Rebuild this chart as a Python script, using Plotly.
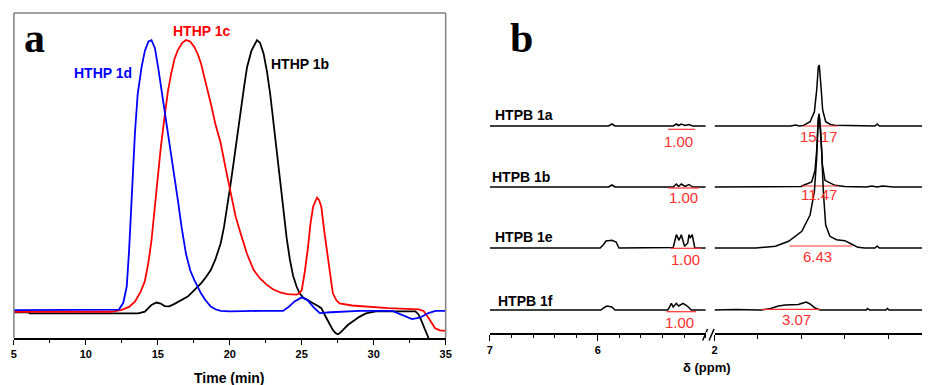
import plotly.graph_objects as go

W, H = 928, 385

# ---------------- Panel a: GPC traces ----------------
time_1d = [5, 11.5, 12.3, 12.6, 12.84, 13.0, 13.18, 13.41, 13.6, 13.87, 14.1, 14.35, 14.56, 14.8, 15.02,
           15.25, 15.47, 15.7, 15.93, 16.16, 16.39, 16.65, 16.96, 17.25, 17.54, 18.0, 18.3, 18.68, 19.0,
           19.37, 20, 22, 23.7, 24.1, 24.5, 25.0, 25.4, 25.8, 26.25, 27, 29, 31.3, 32.0, 32.66, 33.2,
           33.8, 34.3, 35]
sig_1d = [0.003, 0.003, 0.005, 0.03, 0.09, 0.22, 0.41, 0.656, 0.80, 0.90, 0.96, 0.995, 1.0, 0.97, 0.90,
          0.82, 0.74, 0.655, 0.57, 0.49, 0.41, 0.31, 0.21, 0.15, 0.114, 0.065, 0.04, 0.016, 0.006,
          0.0, -0.002, 0.0, 0.0, 0.015, 0.035, 0.05, 0.04, 0.015, -0.008, -0.005, 0.0, 0.0, -0.015, -0.03,
          -0.025, -0.008, 0.0, 0.0]

time_1c = [5, 11.8, 12.5, 13.0, 13.41, 13.8, 14.1, 14.35, 14.56, 14.75, 14.9, 15.2, 15.47, 15.7, 15.93,
           16.16, 16.39, 16.7, 16.96, 17.25, 17.54, 17.8, 18.0, 18.35, 18.68, 19.0, 19.37, 19.7, 20.06,
           20.4, 20.75, 21.2, 21.66, 22.1, 22.58, 23.0, 23.5, 24.0, 24.64, 24.85, 25.0, 25.2, 25.44, 25.6,
           25.79, 26.06, 26.2, 26.36, 26.55, 26.82, 27.0, 27.16, 27.4, 27.62, 28.5, 29.46, 31, 33.12,
           33.47, 33.8, 34.27, 34.6, 35]
sig_1c = [-0.003, -0.003, 0.004, 0.015, 0.034, 0.07, 0.11, 0.18, 0.26, 0.36, 0.46, 0.6, 0.717, 0.81, 0.877,
          0.93, 0.963, 0.99, 1.0, 0.995, 0.975, 0.945, 0.914, 0.84, 0.766, 0.69, 0.619, 0.53, 0.434,
          0.35, 0.287, 0.21, 0.151, 0.12, 0.096, 0.08, 0.068, 0.062, 0.06, 0.066, 0.077, 0.14, 0.237, 0.32,
          0.385, 0.418, 0.41, 0.385, 0.30, 0.188, 0.11, 0.065, 0.04, 0.028, 0.02, 0.016, 0.01, 0.006,
          0.0, -0.025, -0.064, -0.072, -0.074]

time_1b = [5, 6.0, 6.1, 13.64, 14.1, 14.56, 14.9, 15.2, 15.47, 15.8, 16.16, 16.6, 17.08, 17.5, 18.0,
           18.35, 18.68, 19.0, 19.37, 19.6, 19.83, 20.06, 20.29, 20.52, 20.75, 21.0, 21.2, 21.5, 21.89,
           22.1, 22.35, 22.58, 22.81, 23.04, 23.27, 23.5, 23.73, 23.95, 24.18, 24.4, 24.64, 24.85, 25.1,
           25.45, 25.79, 26.1, 26.36, 26.6, 26.82, 27.0, 27.16, 27.35, 27.5, 27.65, 27.85, 28.2, 28.54,
           29.0, 29.46, 30.15, 32.9, 33.1, 33.24, 33.5, 33.81, 34.04]
sig_1b = [-0.005, -0.005, -0.009, -0.009, -0.003, 0.022, 0.031, 0.027, 0.018, 0.017, 0.026, 0.038, 0.053,
          0.075, 0.102, 0.125, 0.151, 0.19, 0.25, 0.31, 0.385, 0.47, 0.557, 0.65, 0.742, 0.83, 0.90, 0.96,
          1.0, 0.99, 0.95, 0.885, 0.80, 0.70, 0.594, 0.48, 0.373, 0.27, 0.188, 0.13, 0.09, 0.065, 0.049,
          0.037, 0.028, 0.019, 0.01, -0.015, -0.039, -0.058, -0.07, -0.082, -0.086, -0.082, -0.07,
          -0.052, -0.039, -0.022, -0.009, -0.002, -0.002, -0.012, -0.027, -0.06, -0.1, -0.13]

gpc_names = ["HTHP 1b", "HTHP 1c", "HTHP 1d"]
gpc_colors = ["#000000", "#ff0000", "#0000ff"]
gpc_time = [time_1b, time_1c, time_1d]
gpc_sig = [sig_1b, sig_1c, sig_1d]
gpc_label_t = [24.85, 18.05, 11.2]
gpc_label_y = [0.91, 1.035, 0.88]
time_ticks = [5, 10, 15, 20, 25, 30, 35]

# ---------------- Panel b: 1H NMR ----------------
nmr_names = ["HTPB 1a", "HTPB 1b", "HTPB 1e", "HTPB 1f"]
nmr_offset = [207, 146, 85, 23]

left_ppm = [
    [7.0, 5.90, 5.868, 5.84, 5.30, 5.271, 5.25, 5.225, 5.19, 5.154, 5.12, 5.0],
    [7.0, 5.90, 5.868, 5.84, 5.30, 5.271, 5.25, 5.225, 5.19, 5.154, 5.12, 5.0],
    [7.0, 5.978, 5.95, 5.923, 5.868, 5.83, 5.803, 5.35, 5.30, 5.271, 5.246, 5.225, 5.195, 5.165,
     5.154, 5.142, 5.124, 5.10, 5.0],
    [7.0, 5.97, 5.94, 5.914, 5.87, 5.84, 5.35, 5.317, 5.30, 5.271, 5.25, 5.209, 5.17, 5.133, 5.0],
]
left_int = [
    [0, 0, 2, 0, 0, 2, 0.5, 2, 0.5, 1.5, 0, 0],
    [0, 0, 2, 0, 0, 3, 0.5, 3, 0.5, 2.5, 0, 0],
    [0, 0, 3, 7, 7.7, 6, 0, 0, 0.5, 13.3, 7.7, 13.3, 1.7, 5, 13.3, 10, 13.3, 0, 0],
    [0, 0, 2.5, 4, 3, 0, 0, 6.7, 3, 6.7, 4, 6.7, 4, 0, 0],
]
right_ppm = [
    [2.0, 1.60, 1.30, 1.25, 1.22, 1.18, 1.119, 1.079, 1.058, 1.043, 1.034, 1.018, 1.003, 0.975, 0.93,
     0.89, 0.70, 0.52, 0.50, 0.48, 0.087],
    [2.0, 1.60, 1.40, 1.20, 1.195, 1.104, 1.073, 1.058, 1.046, 1.037, 1.021, 1.006, 0.982, 0.89, 0.80,
     0.60, 0.55, 0.50, 0.45, 0.35, 0.087],
    [2.0, 1.80, 1.621, 1.438, 1.317, 1.195, 1.119, 1.079, 1.058, 1.043, 1.034, 1.012, 0.997, 0.975,
     0.936, 0.875, 0.799, 0.738, 0.678, 0.616, 0.52, 0.50, 0.48, 0.087],
    [2.0, 1.80, 1.60, 1.566, 1.484, 1.411, 1.347, 1.228, 1.183, 1.155, 1.119, 1.073, 1.027, 0.90, 0.60,
     0.589, 0.57, 0.42, 0.406, 0.39, 0.087],
]
right_int = [
    [0, 0, 0, 1, 0, 0.5, 4.3, 14.3, 36, 59, 61, 39, 16, 4.3, 1.5, 0.7, 0, 0, 2, 0, 0],
    [0, 0, 0.5, 0.5, 1, 5, 16.7, 36.7, 63, 73.3, 56.7, 23, 6.7, 1.7, 0.5, 0, 1, 0, 1, 0, 0],
    [0, 0, 0, 1.7, 6.7, 16.7, 33, 56.7, 90, 130, 133, 96.7, 56.7, 23, 11.7, 8.3, 7.3, 4, 0.7, 0, 0, 2, 0, 0],
    [0, 0.5, 0, 0, 1.5, 4, 5, 5.5, 7, 8, 6, 2, 0, 0, 0, 1.5, 0, 0, 1.5, 0, 0],
]
# integration regions (ppm) and values
integ_left = [(5.347, 5.099), (5.347, 5.06), (5.326, 5.04), (5.363, 5.087)]
integ_right = [(1.183, 0.863), (1.195, 0.863), (1.308, 0.732), (1.566, 1.027)]
integ_left_dy = [-3.3, -1, -0.3, -1.7]
integ_right_dy = [0, 1, 2, 0.7]
integ_left_val = ["1.00", "1.00", "1.00", "1.00"]
integ_right_val = ["15.17", "11.47", "6.43", "3.07"]
integ_left_lab_ppm = [5.25, 5.207, 5.19, 5.243]
integ_right_lab_ppm = [1.037, 1.037, 1.055, 1.24]
integ_left_lab_dy = [-15, -10.3, -11, -12.7]
integ_right_lab_dy = [-10.7, -7.7, -8.7, -9.3]
ppm_ticks_left = [7, 6]
ppm_ticks_right = [2]

SANS = "Liberation Sans, Arial, sans-serif"
SERIF = "Liberation Serif, Times New Roman, serif"
INT_RED = "#ff3030"

fig = go.Figure()

for name, col, t, s in zip(gpc_names, gpc_colors, gpc_time, gpc_sig):
    fig.add_trace(go.Scatter(x=t, y=s, mode="lines", line=dict(color=col, width=1.8),
                             name=name, xaxis="x", yaxis="y", showlegend=False))

for i, name in enumerate(nmr_names):
    off = nmr_offset[i]
    fig.add_trace(go.Scatter(x=left_ppm[i], y=[off + v for v in left_int[i]], mode="lines",
                             line=dict(color="black", width=1.5), xaxis="x2", yaxis="y2", showlegend=False))
    fig.add_trace(go.Scatter(x=right_ppm[i], y=[off + v for v in right_int[i]], mode="lines",
                             line=dict(color="black", width=1.5), xaxis="x3", yaxis="y3", showlegend=False))
    a, b = integ_left[i]
    yl = off + integ_left_dy[i]
    fig.add_trace(go.Scatter(x=[a, b], y=[yl, yl], mode="lines", line=dict(color=INT_RED, width=1.2),
                             xaxis="x2", yaxis="y2", showlegend=False))
    a, b = integ_right[i]
    yr = off + integ_right_dy[i]
    fig.add_trace(go.Scatter(x=[a, b], y=[yr, yr], mode="lines", line=dict(color=INT_RED, width=1.2),
                             xaxis="x3", yaxis="y3", showlegend=False))

annotations = []
for name, col, lt, ly in zip(gpc_names, gpc_colors, gpc_label_t, gpc_label_y):
    annotations.append(dict(x=lt, y=ly, xref="x", yref="y", text="<b>%s</b>" % name, showarrow=False,
                            font=dict(family=SANS, size=14, color=col), xanchor="center", yanchor="middle"))

name_px = [(495, 115), (491.7, 177), (495, 237), (498, 301)]
for i, name in enumerate(nmr_names):
    px, py = name_px[i]
    annotations.append(dict(x=px / W, y=(H - py) / H, xref="paper", yref="paper", text="<b>%s</b>" % name,
                            showarrow=False, font=dict(family=SANS, size=14, color="black"),
                            xanchor="left", yanchor="middle"))
    off = nmr_offset[i]
    annotations.append(dict(x=integ_left_lab_ppm[i], y=off + integ_left_lab_dy[i], xref="x2", yref="y2",
                            text=integ_left_val[i], showarrow=False,
                            font=dict(family=SANS, size=15, color=INT_RED), xanchor="center", yanchor="middle"))
    annotations.append(dict(x=integ_right_lab_ppm[i], y=off + integ_right_lab_dy[i], xref="x3", yref="y3",
                            text=integ_right_val[i], showarrow=False,
                            font=dict(family=SANS, size=15, color=INT_RED), xanchor="center", yanchor="middle"))

annotations += [
    dict(x=32 / W, y=(H - 38) / H, xref="paper", yref="paper", text="<b>a</b>", showarrow=False,
         font=dict(family=SERIF, size=42, color="black"), xanchor="center", yanchor="middle"),
    dict(x=524 / W, y=(H - 38) / H, xref="paper", yref="paper", text="<b>b</b>", showarrow=False,
         font=dict(family=SERIF, size=42, color="black"), xanchor="center", yanchor="middle"),
    dict(x=229 / W, y=(H - 378) / H, xref="paper", yref="paper", text="<b>Time (min)</b>", showarrow=False,
         font=dict(family=SANS, size=14, color="black"), xanchor="center", yanchor="middle"),
    dict(x=711 / W, y=(H - 367) / H, xref="paper", yref="paper", text="<b>δ (ppm)</b>", showarrow=False,
         font=dict(family=SANS, size=13, color="black"), xanchor="center", yanchor="middle"),
]

shapes = [
    # gray frame of panel a (top, left, right)
    dict(type="line", xref="paper", yref="paper", x0=11 / W, x1=447 / W, y0=(H - 13) / H, y1=(H - 13) / H,
         line=dict(color="#808080", width=1.5)),
    dict(type="line", xref="paper", yref="paper", x0=11 / W, x1=11 / W, y0=(H - 13) / H, y1=(H - 338) / H,
         line=dict(color="#808080", width=1.5)),
    dict(type="line", xref="paper", yref="paper", x0=447 / W, x1=447 / W, y0=(H - 13) / H, y1=(H - 338) / H,
         line=dict(color="#808080", width=1.5)),
    # axis break marks
    dict(type="line", xref="paper", yref="paper", x0=706.5 / W, x1=711.5 / W, y0=(H - 340.5) / H, y1=(H - 329) / H,
         line=dict(color="black", width=1.5)),
    dict(type="line", xref="paper", yref="paper", x0=713 / W, x1=718 / W, y0=(H - 340.5) / H, y1=(H - 329) / H,
         line=dict(color="black", width=1.5)),
    dict(type="line", xref="paper", yref="paper", x0=710 / W, x1=715 / W, y0=(H - 333) / H, y1=(H - 333) / H,
         line=dict(color="white", width=2)),
]

tickfont = dict(family=SANS, size=11, color="black")
yb_dom = [(H - 333) / H, 1.0]

fig.update_layout(
    width=W, height=H, margin=dict(l=0, r=0, t=0, b=0),
    paper_bgcolor="white", plot_bgcolor="white", showlegend=False,
    annotations=annotations, shapes=shapes,
    xaxis=dict(domain=[11 / W, 447 / W], range=[5, 35], tickvals=time_ticks,
               ticktext=["<b>%d</b>" % v for v in time_ticks], tickfont=tickfont,
               showline=True, linecolor="black", linewidth=1.5, ticks="outside", ticklen=5, tickwidth=1,
               tickcolor="black", showgrid=False, zeroline=False,
               minor=dict(dtick=2.5, ticks="outside", ticklen=3, tickcolor="black", showgrid=False)),
    yaxis=dict(domain=[(H - 338) / H, (H - 13) / H], range=[-0.1, 1.1], visible=False,
               showgrid=False, zeroline=False),
    xaxis2=dict(domain=[491.7 / W, 710 / W], range=[7, 4.995], anchor="y2", tickvals=ppm_ticks_left,
                ticktext=["<b>%d</b>" % v for v in ppm_ticks_left], tickfont=tickfont,
                showline=True, linecolor="black", linewidth=1.5, ticks="outside", ticklen=6, tickwidth=1.3,
                tickcolor="black", showgrid=False, zeroline=False,
                minor=dict(dtick=0.2, tick0=0, ticks="outside", ticklen=3.5, tickwidth=1.2,
                           tickcolor="black", showgrid=False)),
    yaxis2=dict(domain=yb_dom, range=[0, 333], anchor="x2", visible=False, showgrid=False, zeroline=False),
    xaxis3=dict(domain=[718.5 / W, 1.0], range=[2, 0.0868], anchor="y3", tickvals=ppm_ticks_right,
                ticktext=["<b>%d</b>" % v for v in ppm_ticks_right], tickfont=tickfont,
                showline=True, linecolor="black", linewidth=1.5, ticks="outside", ticklen=6, tickwidth=1.3,
                tickcolor="black", showgrid=False, zeroline=False,
                minor=dict(dtick=0.4, tick0=0, ticks="outside", ticklen=4, tickwidth=1.2,
                           tickcolor="black", showgrid=False)),
    yaxis3=dict(domain=yb_dom, range=[0, 333], anchor="x3", visible=False, showgrid=False, zeroline=False),
)

fig.write_html("out.html", config={"displayModeBar": False},
               post_script="document.body.style.margin='0';document.body.style.overflow='hidden';")
